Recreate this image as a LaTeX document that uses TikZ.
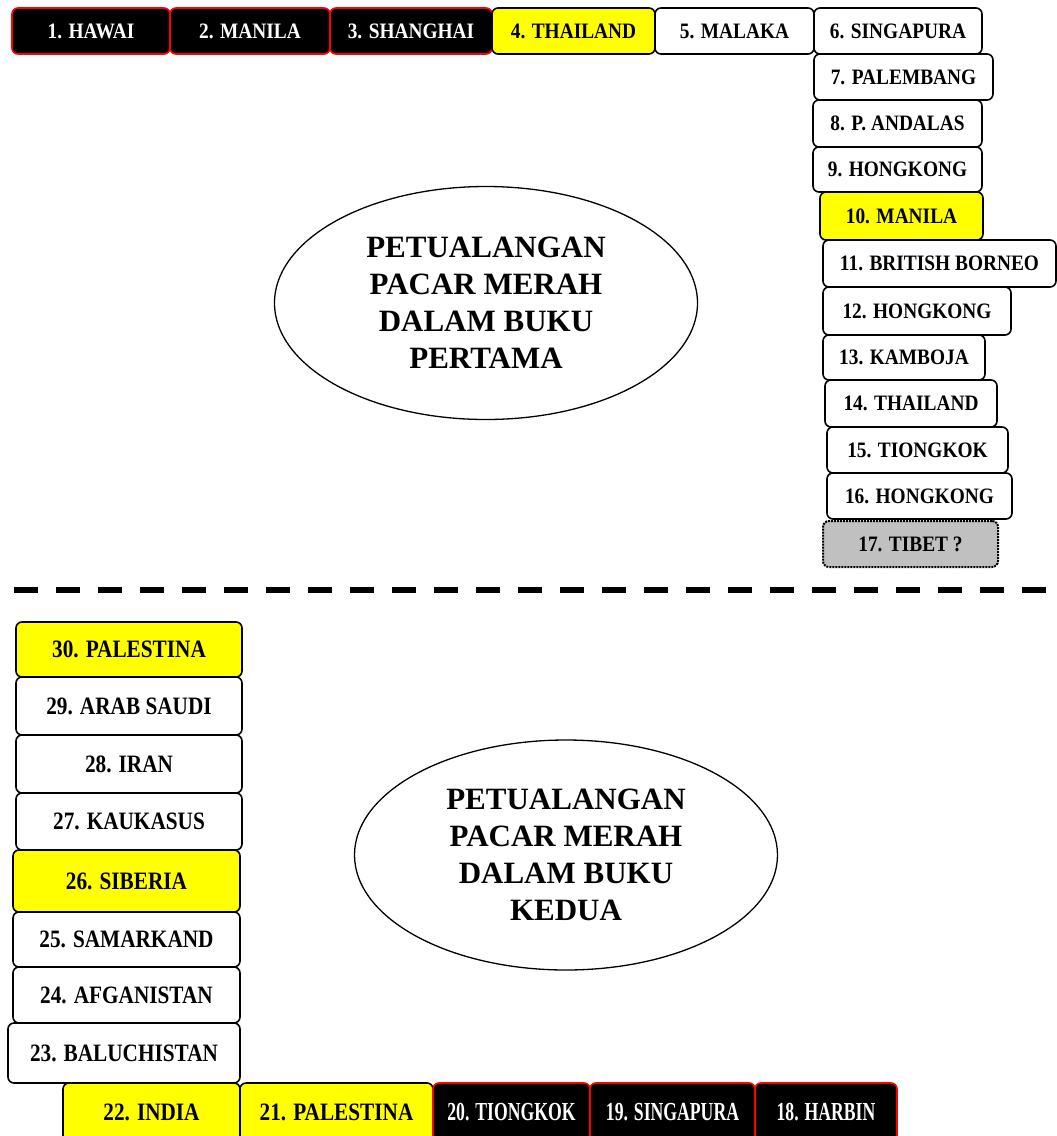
\documentclass[tikz,border=0pt]{standalone}
\usepackage{fontspec}
\setmainfont{Liberation Serif}
\newfontfamily\fA[FakeStretch=0.88]{Liberation Serif}
\newfontfamily\fB[FakeStretch=0.85]{Liberation Serif}
\newfontfamily\fC[FakeStretch=0.68]{Liberation Serif}
\usetikzlibrary{shapes.geometric}
\definecolor{ylw}{HTML}{FFFF00}
\definecolor{gry}{HTML}{C0C0C0}
\newcommand\bx[7]{\node[#2, minimum width={(#5)-(#3)}, minimum height={(#6)-(#4)}] (#1) at ({((#3)+(#5))/2},{((#4)+(#6))/2}) {#7};}
\begin{document}
\begin{tikzpicture}[x=1pt,y=-1pt,
  base/.style={rectangle, rounded corners=6, line width=1.6, inner sep=0, outer sep=0, anchor=center},
  blk/.style={base, fill=black, draw=red, text=white},
  ylwbox/.style={base, fill=ylw, draw=black},
  whtbox/.style={base, fill=white, draw=black},
  grybox/.style={base, fill=gry, draw=black, line width=2, dash pattern=on 2pt off 1pt},
  fa/.style={font={\fA\bfseries\fontsize{22}{24}\selectfont}},
  fb/.style={font={\fB\bfseries\fontsize{25}{27}\selectfont}},
  fc/.style={font={\fC\bfseries\fontsize{26}{28}\selectfont}},
  oval/.style={ellipse, draw=black, line width=1.3, inner sep=0, align=center,
    font={\bfseries\fontsize{31}{37}\selectfont}}
]
\useasboundingbox[fill=white] (0,0) rectangle (1057,1136);

% top row
\bx{b1}{blk,fa}{12}{8}{170}{54}{1. HAWAI}
\bx{b2}{blk,fa}{170}{8}{330}{54}{2. MANILA}
\bx{b3}{blk,fa}{330}{8}{492}{54}{3. SHANGHAI}
\bx{b4}{ylwbox,fa}{492}{8}{655}{54}{4. THAILAND}
\bx{b5}{whtbox,fa}{655}{8}{814}{54}{5. MALAKA}
\bx{b6}{whtbox,fa}{814}{8}{982}{54}{6. SINGAPURA}
% right column
\bx{b7}{whtbox,fa}{814}{54}{993}{100}{7. PALEMBANG}
\bx{b8}{whtbox,fa}{813}{100}{982}{147}{8. P. ANDALAS}
\bx{b9}{whtbox,fa}{813}{147}{982}{192}{9. HONGKONG}
\bx{b10}{ylwbox,fa}{820}{192}{983}{240}{10. MANILA}
\bx{b11}{whtbox,fa}{823}{240}{1056}{287}{11. BRITISH BORNEO}
\bx{b12}{whtbox,fa}{823}{287}{1011}{335}{12. HONGKONG}
\bx{b13}{whtbox,fa}{823}{335}{985}{380}{13. KAMBOJA}
\bx{b14}{whtbox,fa}{825}{380}{997}{427}{14. THAILAND}
\bx{b15}{whtbox,fa}{827}{427}{1008}{473}{15. TIONGKOK}
\bx{b16}{whtbox,fa}{827}{473}{1012}{519}{16. HONGKONG}
\bx{b17}{grybox,fa}{823}{521}{998}{567}{17. TIBET ?}

% dashed separator
\coordinate (dl) at (14,590);
\coordinate (dr) at (1057,590);
\draw[line width=6, dash pattern=on 24 off 18] (dl) -- (dr);

% left column
\bx{b30}{ylwbox,fb}{16}{622}{242}{677}{30. PALESTINA}
\bx{b29}{whtbox,fb}{16}{677}{242}{735}{29. ARAB SAUDI}
\bx{b28}{whtbox,fb}{16}{735}{242}{793}{28. IRAN}
\bx{b27}{whtbox,fb}{16}{793}{242}{850}{27. KAUKASUS}
\bx{b26}{ylwbox,fb}{13}{850}{240}{912}{26. SIBERIA}
\bx{b25}{whtbox,fb}{13}{912}{240}{967}{25. SAMARKAND}
\bx{b24}{whtbox,fb}{13}{967}{240}{1023}{24. AFGANISTAN}
\bx{b23}{whtbox,fb}{8}{1023}{240}{1083}{23. BALUCHISTAN}
% bottom row
\bx{b22}{ylwbox,fb}{63}{1083}{240}{1142}{22. INDIA}
\bx{b21}{ylwbox,fb}{240}{1083}{433}{1142}{21. PALESTINA}
\bx{b20}{blk,fc}{433}{1083}{590}{1142}{20. TIONGKOK}
\bx{b19}{blk,fc}{590}{1083}{755}{1142}{19. SINGAPURA}
\bx{b18}{blk,fc}{755}{1083}{897}{1142}{18. HARBIN}

% ellipses
\node[oval, minimum width=423, minimum height=233] (e1) at (486,303)
  {PETUALANGAN\\PACAR MERAH\\DALAM BUKU\\PERTAMA};
\node[oval, minimum width=423, minimum height=230] (e2) at (566,855)
  {PETUALANGAN\\PACAR MERAH\\DALAM BUKU\\KEDUA};
\end{tikzpicture}
\end{document}
